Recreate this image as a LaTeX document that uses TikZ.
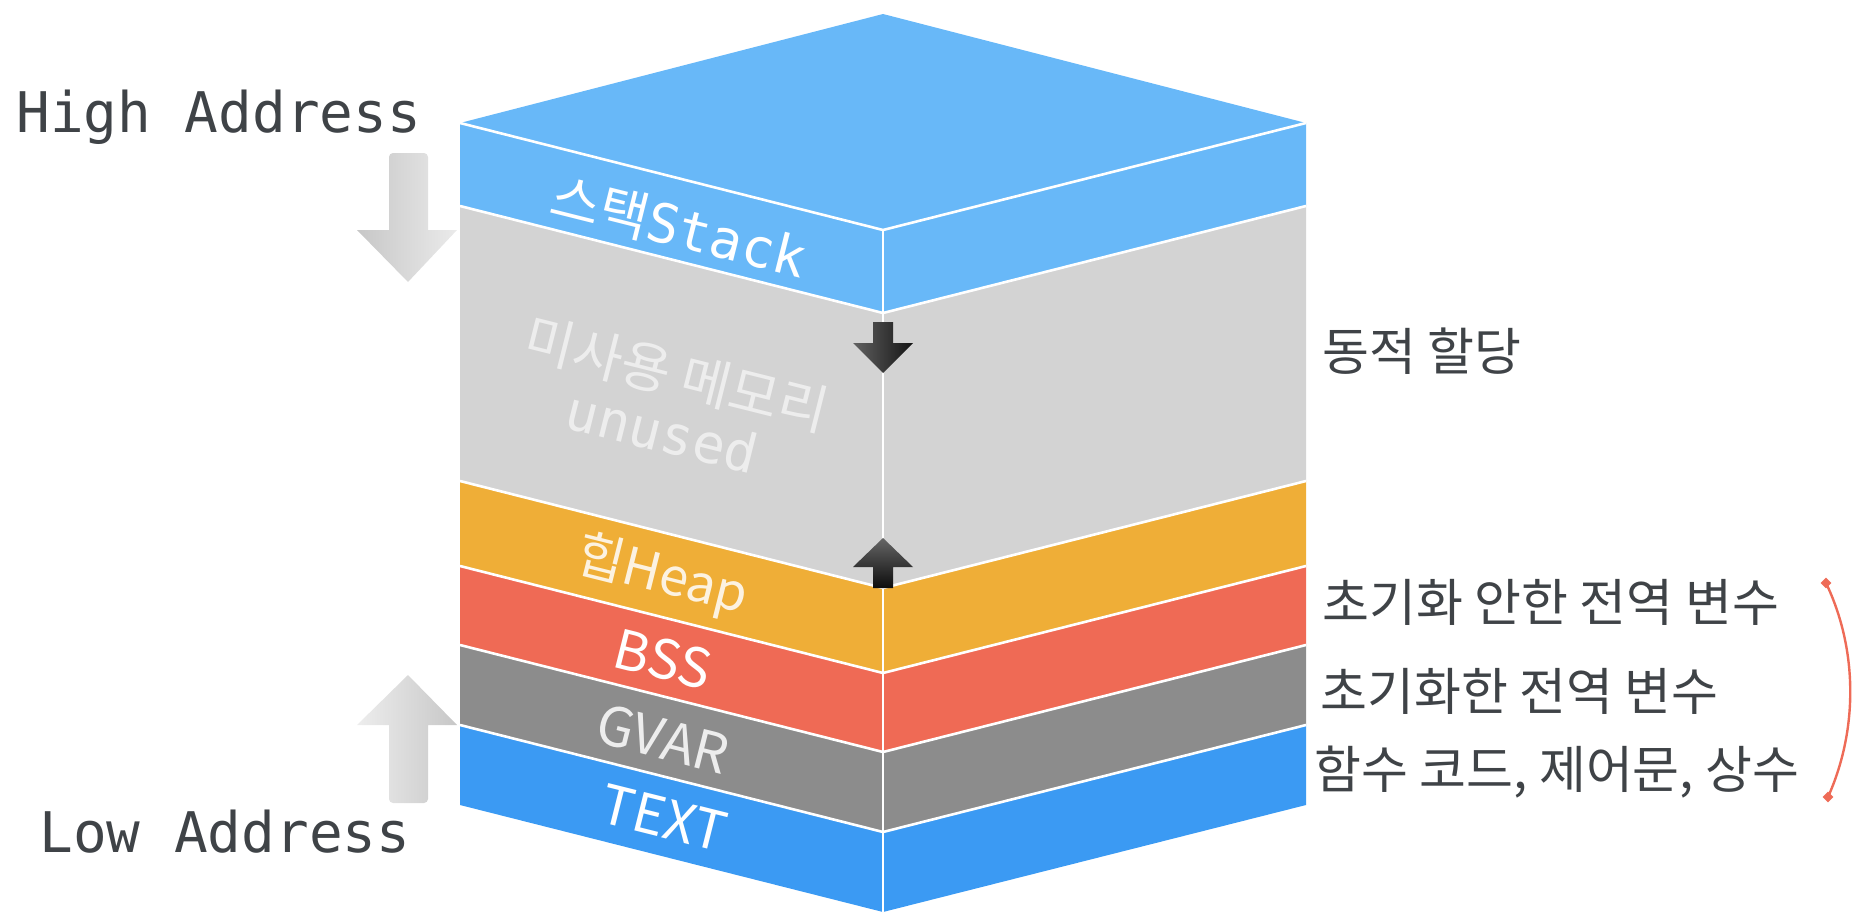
\documentclass[tikz,border=0pt]{standalone}
\usepackage{fontspec}
\newfontfamily\kr{Noto Sans CJK KR}
\newfontfamily\mono{DejaVu Sans Mono}
\usetikzlibrary{shapes.geometric}

\definecolor{stackblue}{HTML}{68B8F8}
\definecolor{unusedgray}{HTML}{D3D3D3}
\definecolor{heaporange}{HTML}{EFAE37}
\definecolor{bssred}{HTML}{EF6A55}
\definecolor{gvargray}{HTML}{8C8C8C}
\definecolor{textblue}{HTML}{3B9AF3}
\definecolor{labelgray}{HTML}{3F4347}
\definecolor{bracketred}{HTML}{EE6B57}

% one horizontal slice of the memory block: left and right faces
\newcommand\cubeband[3]{%
  \fill[#3] (460,#1) -- (883,#1+107) -- (1306,#1) -- (1306,#2)
            -- (883,#2+107) -- (460,#2) -- cycle;}

\begin{document}
\begin{tikzpicture}[x=0.5pt,y=-0.5pt,
  sep/.style={white,line width=1.3pt,line join=miter},
  seglabel/.style={white,rotate=-14.07,inner sep=0pt,align=center},
  sidelabel/.style={labelgray,anchor=west,inner sep=0pt,font=\kr\fontsize{25.5pt}{30pt}\selectfont},
  addrlabel/.style={labelgray,anchor=base west,inner sep=0pt,font=\mono\fontsize{28pt}{32pt}\selectfont},
  bdot/.style={diamond,fill=bracketred,inner sep=0pt,minimum size=5.5pt},
  bracket/.style={bracketred,line width=1.2pt}]

\useasboundingbox (0,0) rectangle (1852,915);

% memory segments, bottom to top
\cubeband{725}{805}{textblue}
\cubeband{645}{725}{gvargray}
\cubeband{566}{645}{bssred}
\cubeband{481}{566}{heaporange}
\cubeband{206}{481}{unusedgray}
\cubeband{123}{206}{stackblue}
% top face
\fill[stackblue] (460,123) -- (883,14) -- (1306,123) -- (883,230) -- cycle;

% white seams between the segments and along the front edge
\foreach \y in {123,206,481,566,645,725}
  \draw[sep] (460,\y) -- (883,\y+107) -- (1306,\y);
\draw[sep] (883,230) -- (883,912);

% growth directions of stack and heap
\shade[left color=black!62,right color=black!92]
  (873,322) -- (893,322) -- (893,343) -- (913,343) -- (883,373)
  -- (853,343) -- (873,343) -- cycle;
\shade[top color=black!60,bottom color=black!95]
  (883,538) -- (913,567) -- (893,567) -- (893,588) -- (873,588)
  -- (873,567) -- (853,567) -- cycle;

% address direction arrows
\shade[left color=black!22,right color=black!8]
  (389,230) [rounded corners=2pt] -- (389,153) -- (428,153) [sharp corners]
  -- (428,230) -- (457,230) -- (408,282) -- (357,230) -- cycle;
\shade[left color=black!7,right color=black!22]
  (389,725) [rounded corners=2pt] -- (389,803) -- (428,803) [sharp corners]
  -- (428,725) -- (457,725) -- (408,675) -- (357,725) -- cycle;

% segment names
\node[seglabel,font=\fontsize{27pt}{30pt}\selectfont] (stk) at (679,227)
  {{\kr 스택}{\mono Stack}};
\node[seglabel,opacity=0.6,font=\fontsize{27pt}{29.5pt}\selectfont] (unu) at (670,401)
  {{\kr 미사용 메모리}\\{\mono unused}};
\node[seglabel,opacity=0.85,font=\kr\fontsize{26pt}{30pt}\selectfont] (hp) at (662,577) {힙Heap};
\node[seglabel,font=\kr\fontsize{27pt}{30pt}\selectfont] (bss) at (663,659) {BSS};
\node[seglabel,opacity=0.85,font=\kr\fontsize{27pt}{30pt}\selectfont] (gv) at (663,739) {GVAR};
\node[seglabel,font=\kr\fontsize{27pt}{30pt}\selectfont] (tx) at (664,818) {TEXT};

% address ends
\node[addrlabel] (hi) at (16,133) {High Address};
\node[addrlabel] (lo) at (39,852) {Low Address};

% descriptions on the right
\node[sidelabel] (dyn) at (1322,351) {동적 할당};
\node[sidelabel] (bssd) at (1322,602) {초기화 안한 전역 변수};
\node[sidelabel] (gvd) at (1320,691) {초기화한 전역 변수};
\node[sidelabel] (txd) at (1314,772) {함수 코드, 제어문, 상수};

% bracket grouping the static segments
\node[bdot] (b1) at (1826,583) {};
\node[bdot] (b2) at (1828,797) {};
\draw[bracket] (b1.center) .. controls (1858,650) and (1858,730) .. (b2.center);

\end{tikzpicture}
\end{document}
